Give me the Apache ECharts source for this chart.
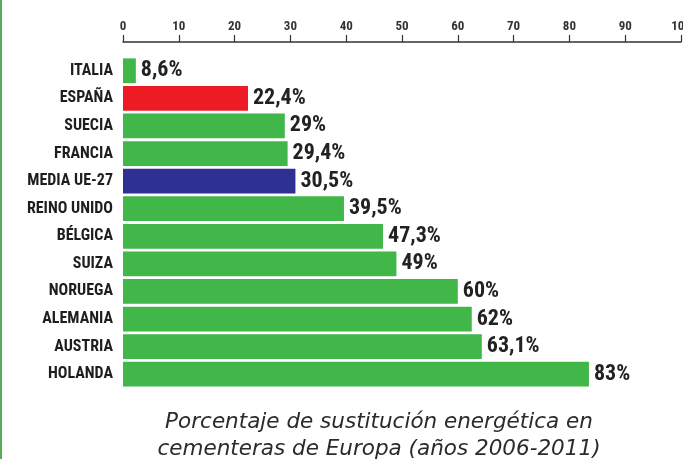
<!DOCTYPE html>
<html>
<head>
<meta charset="utf-8">
<script src="https://cdn.jsdelivr.net/npm/echarts@6/dist/echarts.min.js"></script>
<style>
  html, body { margin: 0; padding: 0; background: #fff; }
  #chart { width: 683px; height: 459px; }
</style>
</head>
<body>
<div id="chart"></div>
<script>
// datos
const countries = ['ITALIA', 'ESPAÑA', 'SUECIA', 'FRANCIA', 'MEDIA UE-27', 'REINO UNIDO',
  'BÉLGICA', 'SUIZA', 'NORUEGA', 'ALEMANIA', 'AUSTRIA', 'HOLANDA']
// longitud de las barras tal como está dibujada (la de Italia es más corta que su rótulo)
const barValues = [2.3, 22.4, 29, 29.5, 30.9, 39.6, 46.6, 49, 60, 62.5, 64.3, 83.5]
// rótulos impresos junto a cada barra
const valueLabels = ['8,6%', '22,4%', '29%', '29,4%', '30,5%', '39,5%',
  '47,3%', '49%', '60%', '62%', '63,1%', '83%']
const barColors = ['#41b649', '#ed1c24', '#41b649', '#41b649', '#2e3192', '#41b649',
  '#41b649', '#41b649', '#41b649', '#41b649', '#41b649', '#41b649']

const narrow = '"Roboto Condensed", "DejaVu Sans Condensed", sans-serif'

const chart = echarts.init(document.getElementById('chart'))
chart.setOption({
  animation: false,
  grid: { left: 123, right: 2, top: 57, bottom: 71, outerBoundsMode: 'none' },
  graphic: [
    {
      type: 'rect',
      shape: { x: 0, y: 0, width: 2, height: 459 },
      style: { fill: '#5aa85a' }
    }
  ],
  title: {
    text: 'Porcentaje de sustitución energética en\ncementeras de Europa (años 2006-2011)',
    left: 374,
    top: 404,
    textAlign: 'center',
    textStyle: {
      fontFamily: '"DejaVu Sans", sans-serif',
      fontStyle: 'italic',
      fontWeight: 'normal',
      fontSize: 21.5,
      lineHeight: 27,
      color: '#2b2b2b'
    }
  },
  xAxis: {
    type: 'value',
    position: 'top',
    offset: 15,
    min: 0,
    max: 100,
    interval: 10,
    splitLine: { show: false },
    axisLine: { show: true, lineStyle: { color: '#333', width: 1.5 } },
    axisTick: { show: true, length: 7, lineStyle: { color: '#333', width: 1.2 } },
    axisLabel: {
      margin: 9,
      fontFamily: narrow,
      fontWeight: 'bold',
      fontSize: 13,
      color: '#333'
    }
  },
  yAxis: {
    type: 'category',
    data: countries,
    inverse: true,
    axisLine: { show: false },
    axisTick: { show: false },
    axisLabel: {
      margin: 10,
      fontFamily: narrow,
      fontWeight: 'bold',
      fontSize: 16,
      color: '#1e1e1e'
    }
  },
  series: [
    {
      type: 'bar',
      data: barValues.map((v, i) => ({ value: v, itemStyle: { color: barColors[i] } })),
      barCategoryGap: '10%',
      label: {
        show: true,
        position: 'right',
        distance: 5,
        fontFamily: narrow,
        fontWeight: 'bold',
        fontSize: 22,
        color: '#222',
        formatter: (p) => valueLabels[p.dataIndex]
      }
    }
  ]
})
</script>
</body>
</html>
